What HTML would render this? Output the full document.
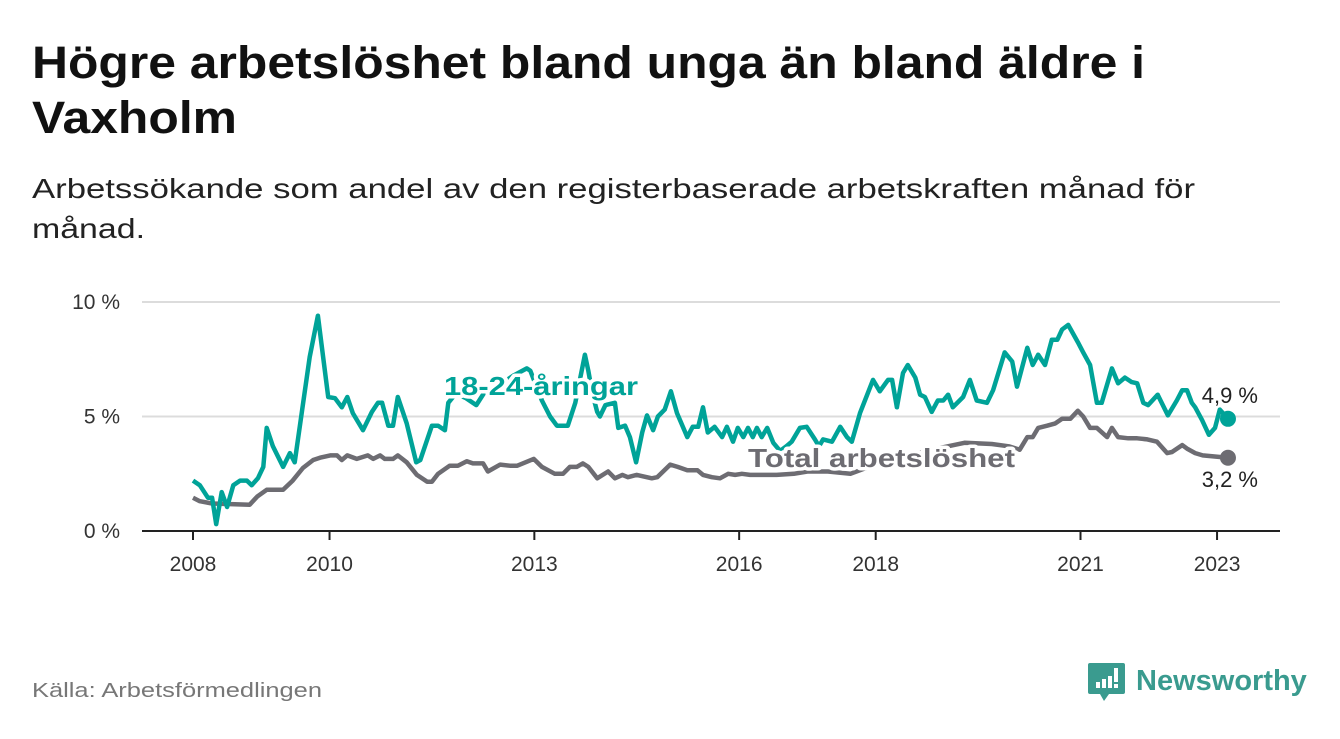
<!DOCTYPE html>
<html><head><meta charset="utf-8">
<style>
body{margin:0;background:#fff;width:1340px;height:734px;overflow:hidden;font-family:"Liberation Sans",sans-serif;}
</style></head><body>
<svg width="1340" height="734" xmlns="http://www.w3.org/2000/svg">
<text x="32" y="78" font-size="45" font-weight="bold" fill="#111" textLength="1113" lengthAdjust="spacingAndGlyphs">Högre arbetslöshet bland unga än bland äldre i</text>
<text x="32" y="133" font-size="45" font-weight="bold" fill="#111" textLength="205" lengthAdjust="spacingAndGlyphs">Vaxholm</text>
<text x="32" y="198" font-size="28" fill="#222" textLength="1163" lengthAdjust="spacingAndGlyphs">Arbetssökande som andel av den registerbaserade arbetskraften månad för</text>
<text x="32" y="238" font-size="28" fill="#222" textLength="113" lengthAdjust="spacingAndGlyphs">månad.</text>
<g id="grid"></g>
<g id="xaxis"></g>
<g id="series"></g>
<text x="32" y="697" font-size="20" fill="#777" textLength="290" lengthAdjust="spacingAndGlyphs">Källa: Arbetsförmedlingen</text>
<g>
<path d="M1090 663 h33 a2 2 0 0 1 2 2 v27 a2 2 0 0 1 -2 2 h-14 l-5 7 l-4 -7 h-10 a2 2 0 0 1 -2 -2 v-27 a2 2 0 0 1 2 -2z" fill="#3a9b8f"/>
<rect x="1096" y="682" width="4" height="6" fill="#fff"/><rect x="1102" y="679" width="4" height="9" fill="#fff"/><rect x="1108" y="676" width="4" height="12" fill="#fff"/><rect x="1114" y="668" width="4" height="14" fill="#fff"/><rect x="1114" y="684" width="4" height="4" fill="#fff"/>
<text x="1136" y="690" font-size="29" font-weight="bold" fill="#3a9b8f">Newsworthy</text>
</g>
</svg>
<script>
const youthYears=[2008.0,2008.10,2008.22,2008.28,2008.34,2008.42,2008.50,2008.59,2008.69,2008.79,2008.86,2008.95,2009.03,2009.08,2009.17,2009.32,2009.42,2009.49,2009.60,2009.71,2009.83,2009.98,2010.08,2010.18,2010.26,2010.34,2010.49,2010.62,2010.71,2010.77,2010.86,2010.93,2011.00,2011.13,2011.27,2011.33,2011.50,2011.59,2011.69,2011.74,2011.85,2012.0,2012.15,2012.3,2012.5,2012.7,2012.89,2012.94,2013.11,2013.23,2013.33,2013.49,2013.60,2013.74,2013.79,2013.85,2013.92,2013.96,2014.04,2014.18,2014.23,2014.33,2014.40,2014.49,2014.58,2014.65,2014.74,2014.81,2014.91,2015.00,2015.09,2015.24,2015.32,2015.40,2015.47,2015.54,2015.64,2015.75,2015.82,2015.91,2015.98,2016.06,2016.13,2016.20,2016.26,2016.33,2016.41,2016.50,2016.6,2016.69,2016.77,2016.89,2016.99,2017.11,2017.17,2017.23,2017.36,2017.48,2017.58,2017.65,2017.77,2017.96,2018.06,2018.18,2018.24,2018.31,2018.40,2018.47,2018.58,2018.65,2018.72,2018.82,2018.91,2018.99,2019.06,2019.13,2019.28,2019.38,2019.48,2019.63,2019.72,2019.89,2020.00,2020.07,2020.22,2020.30,2020.38,2020.48,2020.58,2020.66,2020.73,2020.82,2020.96,2021.04,2021.14,2021.24,2021.31,2021.46,2021.55,2021.65,2021.75,2021.83,2021.92,2021.99,2022.13,2022.28,2022.41,2022.49,2022.56,2022.63,2022.68,2022.78,2022.88,2022.97,2023.04,2023.16];
const youthValues=[2.2,2.0,1.45,1.45,0.3,1.7,1.05,2.0,2.2,2.2,2.0,2.3,2.8,4.5,3.7,2.8,3.4,3.0,5.3,7.6,9.4,5.85,5.8,5.4,5.85,5.15,4.4,5.2,5.6,5.6,4.6,4.6,5.85,4.7,3.0,3.1,4.6,4.6,4.4,5.6,6.0,5.8,5.5,6.2,6.4,6.8,7.1,7.0,5.7,5.0,4.6,4.6,5.6,7.7,7.0,6.0,5.2,5.0,5.5,5.6,4.5,4.6,4.1,3.0,4.3,5.05,4.4,5.0,5.3,6.1,5.15,4.1,4.55,4.55,5.4,4.3,4.55,4.1,4.55,3.9,4.5,4.1,4.5,4.1,4.5,4.1,4.5,3.85,3.5,3.7,3.9,4.5,4.55,4.0,3.7,4.0,3.9,4.55,4.1,3.9,5.15,6.6,6.1,6.6,6.6,5.4,6.9,7.25,6.7,5.95,5.85,5.2,5.7,5.7,5.95,5.4,5.85,6.6,5.7,5.6,6.15,7.8,7.4,6.3,8.0,7.25,7.7,7.25,8.35,8.35,8.8,9.0,8.25,7.8,7.25,5.6,5.6,7.1,6.45,6.7,6.5,6.45,5.6,5.5,5.95,5.05,5.7,6.15,6.15,5.6,5.4,4.85,4.2,4.5,5.3,4.9];
const totalYears=[2008.0,2008.10,2008.28,2008.83,2008.94,2009.08,2009.32,2009.46,2009.61,2009.76,2009.86,2010.01,2010.11,2010.18,2010.26,2010.40,2010.56,2010.64,2010.74,2010.81,2010.93,2011.00,2011.13,2011.28,2011.43,2011.50,2011.59,2011.76,2011.88,2012.01,2012.10,2012.25,2012.32,2012.50,2012.64,2012.75,2012.99,2013.11,2013.30,2013.42,2013.52,2013.62,2013.71,2013.79,2013.92,2014.08,2014.18,2014.29,2014.37,2014.50,2014.72,2014.80,2014.99,2015.10,2015.24,2015.39,2015.47,2015.60,2015.72,2015.84,2015.94,2016.04,2016.16,2016.55,2016.8,2017.0,2017.3,2017.63,2017.9,2018.2,2018.5,2018.9,2019.3,2019.7,2019.95,2020.11,2020.22,2020.30,2020.38,2020.51,2020.63,2020.73,2020.85,2020.96,2021.04,2021.14,2021.24,2021.39,2021.46,2021.55,2021.70,2021.83,2021.98,2022.12,2022.27,2022.34,2022.49,2022.56,2022.68,2022.79,2023.16];
const totalValues=[1.45,1.3,1.2,1.15,1.5,1.8,1.8,2.2,2.75,3.1,3.2,3.3,3.3,3.1,3.3,3.15,3.3,3.15,3.3,3.15,3.15,3.3,3.0,2.45,2.15,2.15,2.5,2.85,2.85,3.05,2.95,2.95,2.6,2.9,2.85,2.85,3.15,2.8,2.5,2.5,2.8,2.8,2.95,2.8,2.3,2.6,2.3,2.45,2.35,2.45,2.3,2.35,2.9,2.8,2.65,2.65,2.45,2.35,2.3,2.5,2.45,2.5,2.45,2.45,2.5,2.6,2.6,2.5,2.8,3.1,3.3,3.6,3.85,3.8,3.7,3.55,4.1,4.1,4.5,4.6,4.7,4.9,4.9,5.25,5.0,4.5,4.5,4.1,4.5,4.1,4.05,4.05,4.0,3.9,3.4,3.45,3.75,3.6,3.4,3.3,3.2];
const yTicks=[0,5,10];
const yTickLabels=["0 %","5 %","10 %"];
const xTicks=[2008,2010,2013,2016,2018,2021,2023];

const NS="http://www.w3.org/2000/svg";
const X=y=>193+(y-2008)*68.27;
const Y=v=>531-v*22.9;
function mk(tag,attrs,parent){const e=document.createElementNS(NS,tag);for(const k in attrs)e.setAttribute(k,attrs[k]);parent.appendChild(e);return e;}
const grid=document.getElementById('grid'),xa=document.getElementById('xaxis'),se=document.getElementById('series');
yTicks.forEach((t,i)=>{
  if(t>0){const l=mk('line',{x1:142,x2:1280,y1:Y(t),y2:Y(t),stroke:'#dcdcdc','stroke-width':2},grid);
  
  }
  const tx=mk('text',{x:120,y:Y(t)+7,'font-size':21,fill:'#333','text-anchor':'end'},grid);tx.textContent=yTickLabels[i];
  
  
});
const ax=mk('line',{x1:142,x2:1280,y1:531,y2:531,stroke:'#222','stroke-width':2},xa);


xTicks.forEach(t=>{
  const l=mk('line',{x1:X(t),x2:X(t),y1:531,y2:540,stroke:'#222','stroke-width':2},xa);
  
  
  const tx=mk('text',{x:X(t),y:571,'font-size':21,fill:'#333','text-anchor':'middle'},xa);tx.textContent=t;
  
  
});
function line(xs,vs,color,name){
  const d=xs.map((x,i)=>(i?'L':'M')+X(x).toFixed(1)+' '+Y(vs[i]).toFixed(1)).join(' ');
  const p=mk('path',{d:d,fill:'none',stroke:color,'stroke-width':4.5,'stroke-linejoin':'round'},se);
  
  
  const n=xs.length-1;
  const c=mk('circle',{cx:X(xs[n]),cy:Y(vs[n]),r:8,fill:color},se);
  
  
}
line(totalYears,totalValues,'#6d6c72','total-line');
line(youthYears,youthValues,'#00a398','youth-line');
function lbl(x,y,txt,color,name,anchor,bold,len){
  const a={x:x,y:y,'font-size':bold?26:22,'font-weight':bold?'bold':'normal',fill:color,stroke:'#fff','stroke-width':bold?7:4,'paint-order':'stroke','stroke-linejoin':'round','text-anchor':anchor||'start'};
  if(len){a.textLength=len;a.lengthAdjust='spacingAndGlyphs';}
  const t=mk('text',a,se);
  t.textContent=txt;
  
  
}
lbl(444,395,'18-24-åringar','#00a398','youth-series-label','start',true,194);
lbl(748,467,'Total arbetslöshet','#6d6c72','total-series-label','start',true,267);
const ny=youthValues.length-1, nt=totalValues.length-1;
lbl(1258,403,youthValues[ny].toFixed(1).replace('.',',')+' %','#222','youth-end-value','end',false);
lbl(1258,487,totalValues[nt].toFixed(1).replace('.',',')+' %','#222','total-end-value','end',false);
</script>
</body></html>
